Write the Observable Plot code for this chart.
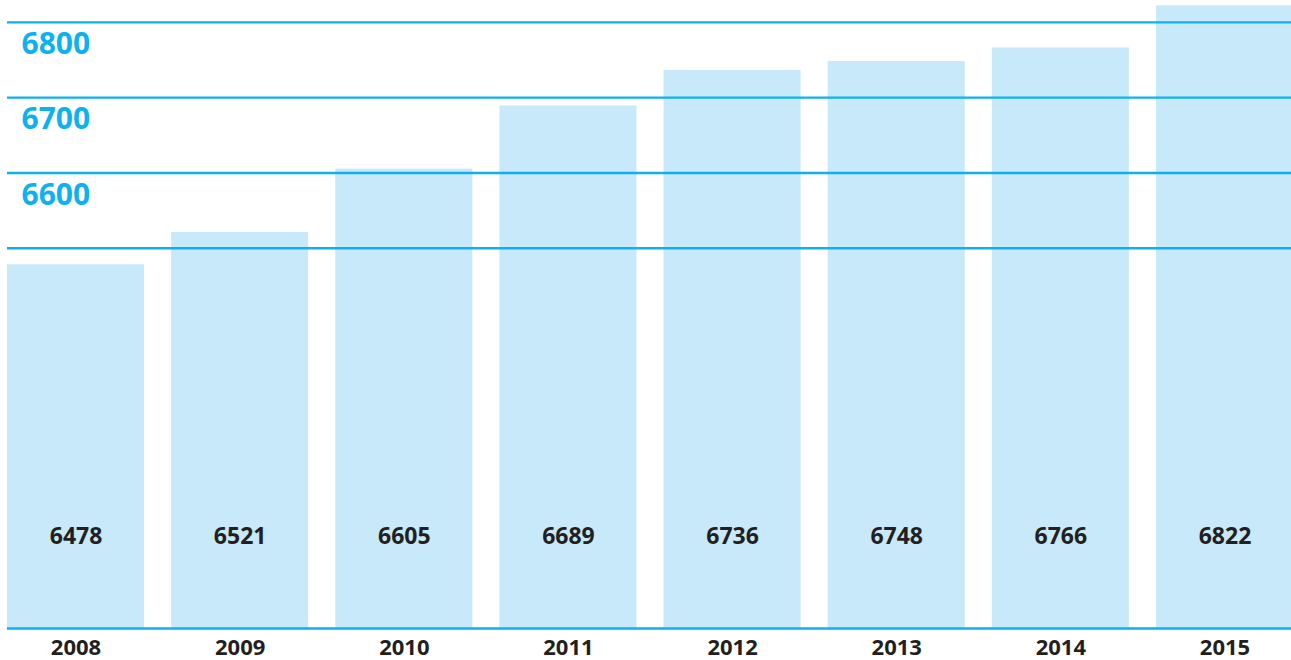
<!DOCTYPE html>
<html>
<head>
<meta charset="utf-8">
<script src="https://cdn.jsdelivr.net/npm/d3@7"></script>
<script src="https://cdn.jsdelivr.net/npm/@observablehq/plot@0.6"></script>
<style>
  html, body { margin: 0; padding: 0; background: #fff; overflow: hidden; }
  #chart svg { display: block; }
</style>
</head>
<body>
<div id="chart"></div>
<script>
const years = ["2008", "2009", "2010", "2011", "2012", "2013", "2014", "2015"];
const values = [6478, 6521, 6605, 6689, 6736, 6748, 6766, 6822];
const gridTicks = [6500, 6600, 6700, 6800];
const tickLabels = [6600, 6700, 6800];
const yDomain = [5995, 6829];

const data = years.map((year, i) => ({year, value: values[i]}));
const blue = "#0db1ee";
const barFill = "#c7e9f9";
const dark = "#231f20";

const chart = Plot.plot({
  width: 1291,
  height: 660,
  marginLeft: 7,
  marginRight: 0,
  marginTop: 0,
  marginBottom: 32,
  style: {fontFamily: "'Open Sans', sans-serif", background: "#fff", overflow: "hidden"},
  x: {domain: years, range: [7, 1293], paddingInner: 0.165, paddingOuter: 0, round: false, axis: null},
  y: {domain: yDomain, axis: null},
  marks: [
    Plot.barY(data, {x: "year", y1: () => yDomain[0], y2: "value", fill: barFill}),
    Plot.ruleY(gridTicks, {stroke: blue, strokeWidth: 2.4}),
    Plot.ruleY([yDomain[0]], {stroke: blue, strokeWidth: 2.6}),
    Plot.text(tickLabels, {y: d => d, text: d => String(d), frameAnchor: "left", textAnchor: "start",
      dx: 14, dy: 22, fill: blue, fontSize: 30, fontWeight: 700}),
    Plot.text(data, {x: "year", text: d => String(d.value), frameAnchor: "bottom",
      dy: -85, fill: dark, fontSize: 23, fontWeight: 700}),
    Plot.axisX({tickSize: 0, tickPadding: 11, fontSize: 22, fontWeight: 700, fill: dark, label: null})
  ]
});
document.getElementById("chart").appendChild(chart);
</script>
</body>
</html>
